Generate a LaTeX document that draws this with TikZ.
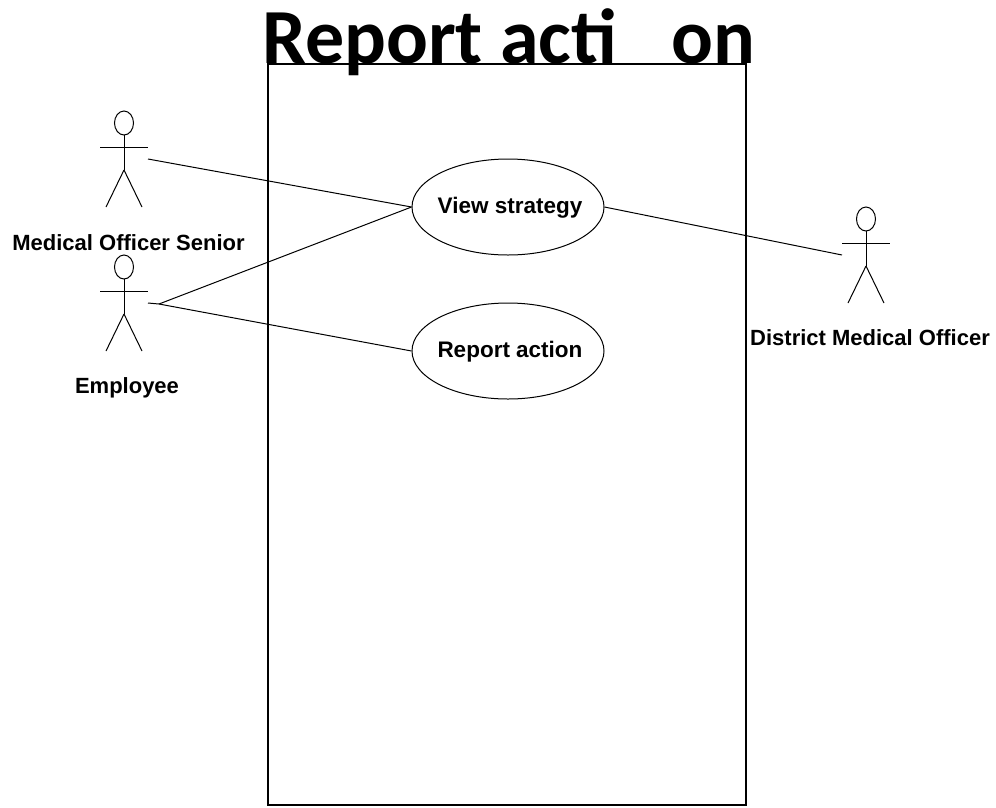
\documentclass[tikz,border=0pt]{standalone}
\usepackage{fontspec}
\setmainfont{Liberation Sans}
\newfontfamily\titlefont{Carlito}
\usepackage{xcolor}
\usepackage{tikz}
\usetikzlibrary{shapes.geometric}

% one actor: head, arms, body and legs around the head centre
\newcommand{\actorfig}[2]{
	\draw[actorline] (#1,#2) circle [x radius=9.5, y radius=12];
	\draw[actorline] (#1,#2+12) -- (#1,#2+47);
	\draw[actorline] (#1-24,#2+24) -- (#1+24,#2+24);
	\draw[actorline] (#1,#2+47) -- (#1-18,#2+84);
	\draw[actorline] (#1,#2+47) -- (#1+18,#2+84);
}

\begin{document}
\begin{tikzpicture}[x=1pt, y=-1pt,
		actorline/.style={line width=1pt},
		usecase/.style={draw, ellipse, line width=1pt, minimum width=192pt, minimum height=96pt, inner sep=0pt},
		usecaselabel/.style={font=\bfseries\fontsize{22.5}{26}\selectfont, inner sep=0pt},
		actorlabel/.style={font=\bfseries\fontsize{22}{26}\selectfont, inner sep=0pt}]
		\useasboundingbox (0,0) rectangle (996,807);
		
		% system box
		\draw[line width=1.5pt] (268,64) rectangle (746,805);
		
		% title
		\node[inner sep=0pt, anchor=base west, font=\titlefont\bfseries\fontsize{78}{82}\selectfont] (title) at (262,63) {Report acti\hspace{54pt}on};
		
		% actors
		\actorfig{124}{123}
		\actorfig{124}{267}
		\actorfig{866}{219}
		
		\coordinate (senior) at (148,159);
		\coordinate (employee) at (148,303);
		\coordinate (employeefork) at (159,304);
		\coordinate (district) at (842,255);
		
		\node[actorlabel] (seniorlabel) at (128.5,243) {Medical Officer Senior};
		\node[actorlabel] (employeelabel) at (127,388) {Employee};
		\begin{scope}
			\clip (748,320) rectangle (990,355);
			\node[actorlabel, anchor=west] (districtlabel) at (750,338) {District Medical Officer};
		\end{scope}
		
		% use cases
		\node[usecase] (view) at (508,207) {};
		\node[usecase] (report) at (508,351) {};
		\node[usecaselabel] (viewlabel) at (510,208) {View strategy};
		\node[usecaselabel] (reportlabel) at (510,352) {Report action};
		
		% associations
		\draw[actorline] (senior) -- (view.west);
		\draw[actorline] (employeefork) -- (view.west);
		\draw[actorline] (employee) -- (employeefork) -- (report.west);
		\draw[actorline] (view.east) -- (district);
		
	\end{tikzpicture}
\end{document}
